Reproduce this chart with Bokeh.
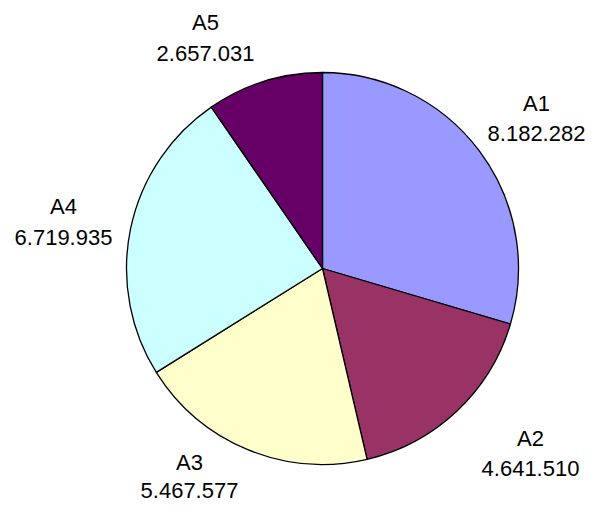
import numpy as np
from bokeh.plotting import figure
from bokeh.models import ColumnDataSource, Range1d
from bokeh.core.properties import value
from bokeh.embed import file_html
from bokeh.resources import INLINE

# ---- data ----
categories = ["A1", "A2", "A3", "A4", "A5"]
values = [8182282, 4641510, 5467577, 6719935, 2657031]
value_labels = ["8.182.282", "4.641.510", "5.467.577", "6.719.935", "2.657.031"]
colors = ["#9999FF", "#993366", "#FFFFCC", "#CCFFFF", "#660066"]

# ---- layout (picture pixel positions) ----
W, H = 587, 508
def px(x): return x
def py(y): return H - y

cx, cy, R = px(322), py(268), 196
label_x = [536, 530, 189, 63, 205]
name_y = [103, 438, 462, 206, 22]
val_y = [133, 468, 490, 237, 53]

vals = np.array(values, dtype=float)
frac = vals / vals.sum()
cum = np.concatenate([[0], np.cumsum(frac)])
start = np.pi / 2 - 2 * np.pi * cum[:-1]
end = np.pi / 2 - 2 * np.pi * cum[1:]

src = ColumnDataSource(dict(cat=categories, start=start, end=end, color=colors,
                            x=[cx] * 5, y=[cy] * 5))

p = figure(width=W, height=H, x_range=Range1d(0, W), y_range=Range1d(0, H),
           output_backend="svg", toolbar_location=None, min_border=0)
p.axis.visible = False
p.grid.visible = False
p.outline_line_color = None
p.background_fill_color = "white"

p.wedge(x="x", y="y", radius=R, start_angle="start", end_angle="end",
        direction="clock", fill_color="color", line_color="black", line_width=1.3,
        source=src)

lsrc = ColumnDataSource(dict(x=[px(v) for v in label_x],
                             ny=[py(v) for v in name_y],
                             vy=[py(v) for v in val_y],
                             name=categories, val=value_labels))
for ycol, tcol in (("ny", "name"), ("vy", "val")):
    p.text(x="x", y=ycol, text=tcol, source=lsrc, text_align="center",
           text_baseline="middle", text_font=value("Liberation Sans"),
           text_font_size="22px", text_color="black")

open("out.html", "w").write(file_html(p, INLINE))
